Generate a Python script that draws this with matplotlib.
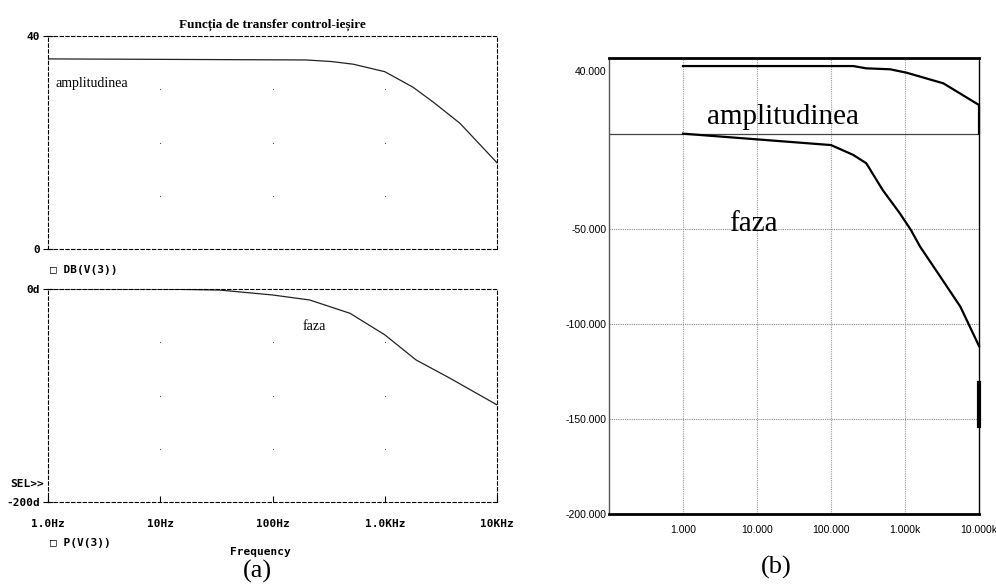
import numpy as np
import matplotlib
matplotlib.use('Agg')
import matplotlib.pyplot as plt

# (a) PSpice traces
freq_a_db = [1, 200, 337, 525, 1000, 1780, 2700, 4680, 10000]
db_a = [35.7, 35.5, 35.2, 34.7, 33.3, 30.4, 27.6, 23.6, 16.2]
freq_a_ph = [1, 10, 34, 100, 214, 490, 1000, 1900, 3800, 10000]
phase_a = [0, 0, -1, -5.6, -10.3, -22.8, -43, -66.6, -83.7, -108.8]
xticks_a = [1, 10, 100, 1000, 10000]
xlabels_a = ['1.0Hz', '10Hz', '100Hz', '1.0KHz', '10KHz']

# (b) second simulator traces
freq_b_amp = [1, 200, 300, 630, 1050, 3300, 10000, 10000]
amp_b = [35.6, 35.6, 34.4, 33.9, 32.1, 26.5, 15.1, 0]
freq_b_ph = [1, 100, 200, 300, 500, 850, 1200, 1600, 3000, 5600, 10000]
phase_b = [0, -6.0, -11.2, -15.6, -29.7, -41.9, -50.7, -59.5, -75.3, -91.1, -111.8]
freq_b_jump = [10000, 10000]
phase_b_jump = [-131.3, -154.0]
xticks_b = [1, 10, 100, 1000, 10000]
xlabels_b = ['1.000', '10.000', '100.000', '1.000k', '10.000k']
yticks_b = [-200, -150, -100, -50]
ylabels_b = ['-200.000', '-150.000', '-100.000', '-50.000']
ytop_b = 40

W, H = 996, 584
fig = plt.figure(figsize=(W / 100, H / 100), dpi=100)

def px_axes(x0, y0, x1, y1):
    return fig.add_axes([x0 / W, 1 - y1 / H, (x1 - x0) / W, (y1 - y0) / H])

mono = dict(family='DejaVu Sans Mono', weight='bold', size=8)
serif = 'Liberation Serif'
dash = (0, (3, 2.2))

def pspice_frame(ax):
    for s in ax.spines.values():
        s.set_linestyle(dash)
        s.set_linewidth(0.8)
        s.set_color('black')
    ax.set_xscale('log')
    ax.set_xlim(1, 10000)
    ax.minorticks_off()
    ax.tick_params(axis='y', direction='inout', length=7, width=0.8, pad=2)
    ax.tick_params(axis='x', direction='in', length=4, width=0.8)

# ---- (a) upper: DB(V(3))
ax1 = px_axes(48, 36, 497, 249)
pspice_frame(ax1)
ax1.set_ylim(0, 40)
ax1.set_yticks([0, 40])
ax1.set_yticklabels(['0', '40'], **mono)
ax1.set_xticks(xticks_a)
ax1.set_xticklabels([])
ax1.tick_params(axis='x', length=0)
gx, gy = np.meshgrid([10, 100, 1000], [10, 20, 30])
ax1.plot(gx.ravel(), gy.ravel(), 's', ms=0.8, color='#555555', mew=0)
ax1.plot(freq_a_db, db_a, color='#222222', lw=0.9)
ax1.set_title('Funcția de transfer control-ieșire', family=serif, weight='bold',
              fontsize=9.5, pad=6)

# ---- (a) lower: P(V(3))
ax2 = px_axes(48, 289, 497, 502)
pspice_frame(ax2)
ax2.set_ylim(-200, 0)
ax2.set_yticks([-200, 0])
ax2.set_yticklabels(['-200d', '0d'], **mono)
ax2.set_xticks(xticks_a)
ax2.set_xticklabels(xlabels_a, **mono)
ax2.tick_params(axis='x', pad=12)
gx, gy = np.meshgrid([10, 100, 1000], [-50, -100, -150])
ax2.plot(gx.ravel(), gy.ravel(), 's', ms=0.8, color='#555555', mew=0)
ax2.plot(freq_a_ph, phase_a, color='#222222', lw=0.9)

fig.text(55 / W, 1 - 83 / H, 'amplitudinea', family=serif, fontsize=10, va='center')
fig.text(303 / W, 1 - 327 / H, 'faza', family=serif, fontsize=10, va='center')
fig.text(50 / W, 1 - 270 / H, '\u25a1 DB(V(3))', va='center', **mono)
fig.text(50 / W, 1 - 543 / H, '\u25a1 P(V(3))', va='center', **mono)
fig.text(10 / W, 1 - 484 / H, 'SEL>>', va='center', **mono)
fig.text(260 / W, 1 - 552 / H, 'Frequency', ha='center', va='center', **mono)
fig.text(257 / W, 1 - 571 / H, '(a)', family=serif, fontsize=19, ha='center', va='center')

# ---- (b)
ax3 = px_axes(609, 57.7, 979, 513.5)
ax3.set_xscale('log')
ax3.set_xlim(0.1, 10000)
ax3.set_ylim(-200, ytop_b)
ax3.minorticks_off()
ax3.set_xticks(xticks_b)
ax3.set_yticks(yticks_b)
narrow = dict(family=['Liberation Sans Narrow', 'Liberation Sans'], size=7.5)
ax3.set_xticklabels(xlabels_b, **narrow)
ax3.set_yticklabels(ylabels_b, **narrow)
# the top label sits a little below the frame in the original
ax3.annotate(f'{ytop_b:.3f}', xy=(0, 1), xycoords='axes fraction',
             xytext=(-2, -10), textcoords='offset points',
             ha='right', va='center', **narrow)
ax3.tick_params(length=0, pad=2)
ax3.tick_params(axis='x', pad=8)
for v in xticks_b[:-1]:
    ax3.axvline(v, color='#999999', lw=0.8, ls=(0, (1, 1)), zorder=1)
for v in yticks_b[1:]:
    ax3.axhline(v, color='#888888', lw=0.8, ls=(0, (1, 1)), zorder=1)
ax3.axhline(0, color='#444444', lw=0.9, zorder=1)
ax3.spines['top'].set_linewidth(2)
ax3.spines['bottom'].set_linewidth(2)
ax3.spines['left'].set_color('#555555')
ax3.spines['left'].set_linewidth(1)
ax3.spines['right'].set_linewidth(1)
ax3.plot(freq_b_amp, amp_b, color='black', lw=1.6, clip_on=False)
ax3.plot(freq_b_ph, phase_b, color='black', lw=1.6, clip_on=False)
ax3.plot(freq_b_jump, phase_b_jump, color='black', lw=3, clip_on=False)
ax3.text(0.265, 0.87, 'amplitudinea', transform=ax3.transAxes, family=serif,
         fontsize=21, va='center')
ax3.text(0.325, 0.635, 'faza', transform=ax3.transAxes, family=serif,
         fontsize=21, va='center')
fig.text(776 / W, 1 - 567 / H, '(b)', family=serif, fontsize=19, ha='center', va='center')

fig.savefig('out.png', dpi=100)
